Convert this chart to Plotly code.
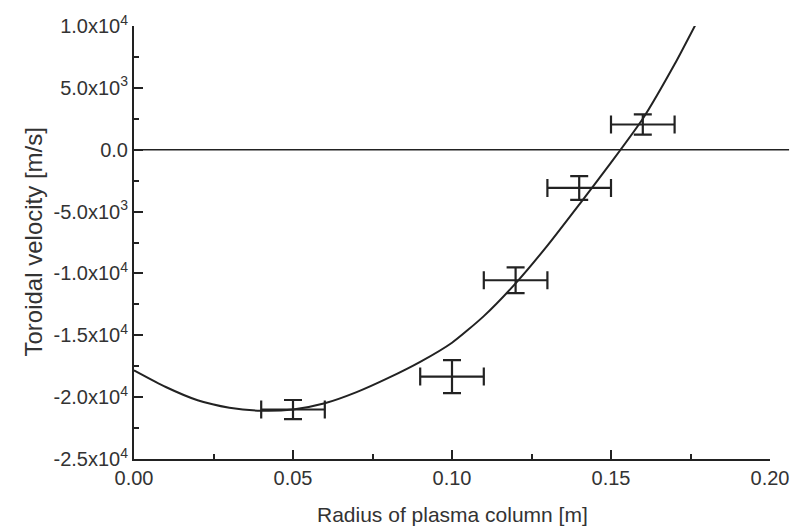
import plotly.graph_objects as go

# measured points with error bars
pt_x = [0.05, 0.10, 0.12, 0.14, 0.16]
pt_y = [-21000, -18340, -10550, -3090, 2040]
pt_yerr = [770, 1340, 1040, 960, 820]
pt_xerr = [0.01, 0.01, 0.01, 0.01, 0.01]

# fitted curve
fit_x = [0.00, 0.01, 0.02, 0.03, 0.04, 0.05, 0.06, 0.07, 0.08, 0.09, 0.10,
         0.11, 0.12, 0.13, 0.14, 0.15, 0.16, 0.17, 0.1765]
fit_y = [-17830, -19180, -20250, -20850, -21100, -21000, -20500, -19600,
         -18450, -17150, -15600, -13450, -10800, -7750, -4430, -1050, 2500,
         6900, 10070]

# axis ticks
x_ticks = [0.00, 0.05, 0.10, 0.15, 0.20]
x_ticktext = ["0.00", "0.05", "0.10", "0.15", "0.20"]
y_ticks = [-25000, -20000, -15000, -10000, -5000, 0, 5000, 10000]
y_ticktext = ["-2.5x10<sup>4</sup>", "-2.0x10<sup>4</sup>", "-1.5x10<sup>4</sup>",
              "-1.0x10<sup>4</sup>", "-5.0x10<sup>3</sup>", "0.0",
              "5.0x10<sup>3</sup>", "1.0x10<sup>4</sup>"]

INK = "#222222"
TXT = "#333333"
FONT = "Liberation Sans, Arial, sans-serif"

fig = go.Figure()
fig.add_trace(go.Scatter(
    x=fit_x, y=fit_y, mode="lines",
    line=dict(color=INK, width=2, shape="spline", smoothing=0.6),
    hoverinfo="skip", showlegend=False, cliponaxis=False))
fig.add_trace(go.Scatter(
    x=pt_x, y=pt_y, mode="markers",
    marker=dict(size=2, color="rgba(0,0,0,0)"),
    error_y=dict(type="data", array=pt_yerr, width=9, thickness=2.2, color=INK),
    error_x=dict(type="data", array=pt_xerr, width=9, thickness=2.2, color=INK),
    showlegend=False))

# horizontal zero line (extends slightly past the x axis end)
fig.add_shape(type="line", xref="paper", yref="y", x0=0, x1=1.03, y0=0, y1=0,
              line=dict(color=INK, width=1.6))

# axis titles
fig.add_annotation(text="Radius of plasma column [m]", xref="paper", yref="paper",
                   x=0.5, y=0, xanchor="center", yanchor="middle", yshift=-55,
                   showarrow=False, font=dict(size=21, color=TXT))
fig.add_annotation(text="Toroidal velocity [m/s]", xref="paper", yref="paper",
                   x=0, y=0.5, xanchor="center", yanchor="middle", xshift=-101,
                   textangle=-90, showarrow=False, font=dict(size=24, color=TXT))

fig.update_layout(
    width=801, height=531,
    margin=dict(l=134, r=27, t=20, b=72),
    paper_bgcolor="white", plot_bgcolor="white",
    font=dict(family=FONT, size=20, color=TXT),
    xaxis=dict(
        range=[0, 0.2], tickvals=x_ticks, ticktext=x_ticktext,
        showline=True, linecolor=INK, linewidth=2, mirror=False,
        ticks="inside", ticklen=9, tickwidth=2, tickcolor=INK,
        minor=dict(ticks="inside", ticklen=5, tickwidth=2, tickcolor=INK, dtick=0.025),
        showgrid=False, zeroline=False,
        tickfont=dict(size=20, color=TXT),
    ),
    yaxis=dict(
        range=[-25000, 10000], tickvals=y_ticks, ticktext=y_ticktext,
        showline=True, linecolor=INK, linewidth=2, mirror=False,
        ticks="inside", ticklen=9, tickwidth=2, tickcolor=INK,
        minor=dict(ticks="inside", ticklen=5, tickwidth=2, tickcolor=INK, dtick=2500),
        showgrid=False, zeroline=False,
        tickfont=dict(size=20, color=TXT),
    ),
)

fig.write_html("out.html")
